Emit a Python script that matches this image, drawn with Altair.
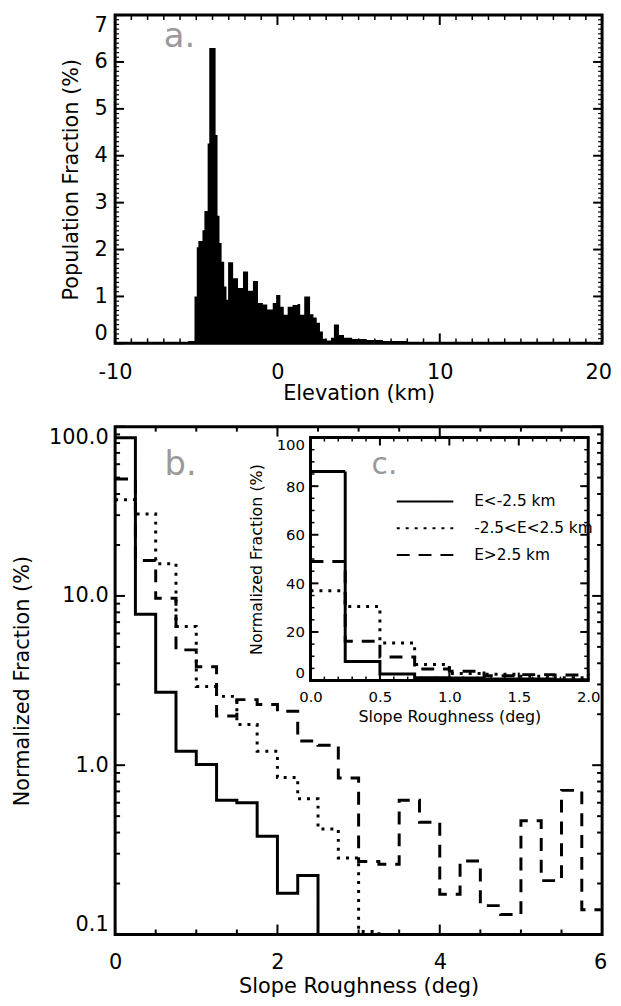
import altair as alt
import pandas as pd
import numpy as np

FONT = "DejaVu Sans"
GRAY = "#9a9a9a"

# ---------------- panel a: elevation histogram (step edges, %) ----------------
elev_edge_km = [-10.0, -6.2, -5.5, -5.11, -4.97, -4.87, -4.62, -4.50, -4.30, -4.20,
                -3.81, -3.69, -3.57, -3.44, -3.28, -3.14, -3.04, -2.73, -2.43, -2.12,
                -1.81, -1.51, -1.20, -0.90, -0.63, -0.29, -0.08, 0.18, 0.39, 0.63,
                0.93, 1.24, 1.40, 1.65, 2.01, 2.22, 2.42, 2.62, 2.80, 3.00,
                3.30, 3.48, 3.79, 4.10, 4.60, 5.50, 6.50, 8.00, 10.00, 12.00, 20.0]
elev_frac_pct = [0.0, 0.02, 0.05, 1.0, 2.05, 2.18, 2.41, 2.82, 4.26, 6.3,
                 4.44, 2.72, 2.14, 1.74, 1.21, 0.93, 1.73, 1.39, 1.18, 1.53,
                 1.12, 1.33, 0.86, 0.83, 0.72, 0.86, 1.03, 0.78, 0.61, 0.78,
                 0.82, 0.84, 0.61, 1.0, 0.62, 0.55, 0.44, 0.25, 0.10, 0.06,
                 0.12, 0.40, 0.18, 0.12, 0.09, 0.07, 0.05, 0.03, 0.01, 0.0, 0.0]

# ---------------- panels b / c: slope roughness histograms (%) ----------------
slope_bin_deg = [0.0, 0.25, 0.5, 0.75, 1.0, 1.25, 1.5, 1.75, 2.0, 2.25, 2.5, 2.75,
                 3.0, 3.25, 3.5, 3.75, 4.0, 4.25, 4.5, 4.75, 5.0, 5.25, 5.5, 5.75]
slope_end_deg = 6.0
frac_low_pct = [86.0, 7.8, 2.7, 1.21, 1.01, 0.62, 0.60, 0.38, 0.175, 0.223,
                0, 0, 0, 0, 0, 0, 0, 0, 0, 0, 0, 0, 0, 0]
frac_mid_pct = [37.0, 30.5, 15.5, 6.6, 2.92, 2.55, 1.74, 1.21, 0.846, 0.633,
                0.42, 0.283, 0.104, 0, 0, 0, 0, 0, 0, 0, 0, 0, 0, 0]
frac_high_pct = [49.0, 16.2, 9.7, 4.8, 3.82, 1.95, 2.44, 2.28, 2.08, 1.39,
                 1.31, 0.84, 0.27, 0.26, 0.62, 0.46, 0.173, 0.272, 0.148, 0.131,
                 0.47, 0.208, 0.71, 0.14]
series_names = ["E<-2.5 km", "-2.5<E<2.5 km", "E>2.5 km"]
series_dash = [[1, 0], [3, 6], [13, 9]]

# ---------------- layout constants ----------------
W = 491
HA = 331
HB = 512
IX0, IX1, IY0, IY1 = 197, 477, 11, 256   # inset box inside panel b (px)


def edge_ticks(values, scale, axis, ch, length, x0, x1, y0, y1, sw=2.0):
    df = pd.DataFrame({"v": values})
    base = alt.Chart(df).mark_rule(color="black", strokeWidth=sw)
    if ch == "x":
        enc = alt.X("v:Q", scale=scale, axis=axis)
        return [base.encode(x=enc, y=alt.value(y1), y2=alt.value(y1 - length)),
                base.encode(x=enc, y=alt.value(y0), y2=alt.value(y0 + length))]
    enc = alt.Y("v:Q", scale=scale, axis=axis)
    return [base.encode(y=enc, x=alt.value(x0), x2=alt.value(x0 + length)),
            base.encode(y=enc, x=alt.value(x1), x2=alt.value(x1 - length))]


# ================= panel a =================
xa = alt.Scale(domain=[-10, 20], nice=False, zero=False)
ya = alt.Scale(domain=[0, 7], nice=False, zero=False)
ax_xa = alt.Axis(title="Elevation (km)", values=[-10, 0, 10, 20], labelFlush=False,
                 labelOffset={"condition": {"test": "datum.value == 20", "value": -4}, "value": 0},
                 labelExpr="datum.value + ''", labelPadding=18, titlePadding=1)
ax_ya = alt.Axis(title="Population Fraction (%)", values=list(range(8)),
                 labelFlush=True, labelPadding=8, titlePadding=13)
dfa = pd.DataFrame({"elev": elev_edge_km, "frac": elev_frac_pct})

hist = alt.Chart(dfa).mark_area(interpolate="step-after", color="black", clip=True).encode(
    x=alt.X("elev:Q", scale=xa, axis=ax_xa),
    y=alt.Y("frac:Q", scale=ya, axis=ax_ya),
)
a_major_x = [-10, 0, 10, 20]
a_minor_x = [v for v in range(-9, 20) if v not in a_major_x]
a_major_y = list(range(8))
a_minor_y = [round(v, 2) for v in np.arange(0.1, 7.0, 0.1) if abs(v - round(v)) > 1e-6]
ticks_a = (edge_ticks(a_major_x, xa, ax_xa, "x", 10, 0, W, 0, HA)
           + edge_ticks(a_minor_x, xa, ax_xa, "x", 5, 0, W, 0, HA, 1.5)
           + edge_ticks(a_major_y, ya, ax_ya, "y", 9, 0, W, 0, HA)
           + edge_ticks(a_minor_y, ya, ax_ya, "y", 4, 0, W, 0, HA, 1.2))
label_a = alt.Chart(pd.DataFrame({"k": [0]})).mark_text(
    text="a.", align="left", baseline="alphabetic", font=FONT, fontSize=34, color=GRAY
).encode(x=alt.datum(-7.0, scale=xa, axis=ax_xa), y=alt.datum(6.32, scale=ya, axis=ax_ya))

panel_a = alt.layer(hist, *ticks_a, label_a).properties(width=W, height=HA)

# ================= panel b =================
rows = []
for name, vals in zip(series_names, [frac_low_pct, frac_mid_pct, frac_high_pct]):
    xs = slope_bin_deg + [slope_end_deg]
    vs = vals + [vals[-1]]
    for x, v in zip(xs, vs):
        rows.append({"slope": x, "frac": v, "series": name})
dfb = pd.DataFrame(rows)

dash_scale = alt.Scale(domain=series_names, range=series_dash)
legend = alt.Legend(orient="none", legendX=283, legendY=62, title=None,
                    symbolType="stroke", symbolSize=3249, symbolStrokeWidth=2,
                    symbolStrokeColor="black", labelFont=FONT, labelFontSize=15.5,
                    labelColor="black", labelOffset=20, rowPadding=0, padding=0,
                    clipHeight=27)

xb = alt.Scale(domain=[0, 6], nice=False, zero=False)
yb = alt.Scale(type="log", domain=[0.1, 100], nice=False)
ax_xb = alt.Axis(title="Slope Roughness (deg)", values=[0, 2, 4, 6], format="d",
                 labelFlush=False,
                 labelOffset={"condition": {"test": "datum.value == 6", "value": -2}, "value": 0},
                 labelPadding=17, titlePadding=4)
ax_yb = alt.Axis(title="Normalized Fraction (%)", values=[0.1, 1, 10, 100],
                 format=".1f", labelFlush=True, labelPadding=7, titlePadding=16)

lines_b = alt.Chart(dfb).transform_calculate(
    fy="max(datum.frac, 0.01)"
).mark_line(interpolate="step-after", color="black", strokeWidth=3, clip=True).encode(
    x=alt.X("slope:Q", scale=xb, axis=ax_xb),
    y=alt.Y("fy:Q", scale=yb, axis=ax_yb),
    strokeDash=alt.StrokeDash("series:N", scale=dash_scale, legend=legend),
)
b_major_x = [0, 2, 4, 6]
b_minor_x = [0.5, 1, 1.5, 2.5, 3, 3.5, 4.5, 5, 5.5]
b_major_y = [0.1, 1, 10, 100]
b_minor_y = [round(k * 10.0 ** d, 3) for d in (-1, 0, 1) for k in range(2, 10)]
ticks_b = (edge_ticks(b_major_x, xb, ax_xb, "x", 10, 0, W, 0, HB)
           + edge_ticks(b_minor_x, xb, ax_xb, "x", 5, 0, W, 0, HB)
           + edge_ticks(b_major_y, yb, ax_yb, "y", 10, 0, W, 0, HB)
           + edge_ticks(b_minor_y, yb, ax_yb, "y", 5, 0, W, 0, HB))
label_b = alt.Chart(pd.DataFrame({"k": [0]})).mark_text(
    text="b.", align="left", baseline="alphabetic", font=FONT, fontSize=34, color=GRAY
).encode(x=alt.datum(0.61, scale=xb, axis=ax_xb), y=alt.datum(51.6, scale=yb, axis=ax_yb))

main_b = alt.layer(lines_b, *ticks_b, label_b)

# ================= inset c =================
xi = alt.Scale(domain=[0, 2], range=[IX0, IX1], nice=False, zero=False)
yi = alt.Scale(domain=[0, 100], range=[IY1, IY0], nice=False, zero=False)
ax_xi = alt.Axis(orient="bottom", offset=-(HB - IY1), title="Slope Roughness (deg)",
                 values=[0, 0.5, 1, 1.5, 2], format=".1f", labelFlush=False,
                 labelFontSize=15, titleFontSize=16, labelPadding=9, titlePadding=4)
ax_yi = alt.Axis(orient="left", offset=-IX0, title="Normalized Fraction (%)",
                 values=[0, 20, 40, 60, 80, 100], format="d", labelFlush=True,
                 labelFontSize=15, titleFontSize=16, labelPadding=6, titlePadding=12)

frame = alt.Chart(pd.DataFrame({"x0": [0.0], "x1": [2.0], "y0": [0.0], "y1": [100.0]})).mark_rect(
    fill="white", stroke="black", strokeWidth=3
).encode(
    x=alt.X("x0:Q", scale=xi, axis=ax_xi), x2="x1",
    y=alt.Y("y0:Q", scale=yi, axis=ax_yi), y2="y1",
)
lines_c = alt.Chart(dfb).transform_filter("datum.slope <= 2").mark_line(
    interpolate="step-after", color="black", strokeWidth=3
).encode(
    x=alt.X("slope:Q", scale=xi, axis=ax_xi),
    y=alt.Y("frac:Q", scale=yi, axis=ax_yi),
    strokeDash=alt.StrokeDash("series:N", scale=dash_scale, legend=legend),
)
c_major_x = [0, 0.5, 1, 1.5, 2]
c_minor_x = [round(v, 2) for v in np.arange(0.1, 2.0, 0.1) if abs(v * 2 - round(v * 2)) > 1e-6]
c_major_y = [0, 20, 40, 60, 80, 100]
c_minor_y = [v for v in range(5, 100, 5) if v % 20 != 0]
ticks_c = (edge_ticks(c_major_x, xi, ax_xi, "x", 8, IX0, IX1, IY0, IY1)
           + edge_ticks(c_minor_x, xi, ax_xi, "x", 4, IX0, IX1, IY0, IY1, 1.5)
           + edge_ticks(c_major_y, yi, ax_yi, "y", 8, IX0, IX1, IY0, IY1)
           + edge_ticks(c_minor_y, yi, ax_yi, "y", 4, IX0, IX1, IY0, IY1, 1.5))
label_c = alt.Chart(pd.DataFrame({"k": [0]})).mark_text(
    text="c.", align="left", baseline="alphabetic", font=FONT, fontSize=30, color=GRAY
).encode(x=alt.datum(0.44, scale=xi, axis=ax_xi), y=alt.datum(84.8, scale=yi, axis=ax_yi))

inset_c = alt.layer(frame, *ticks_c, lines_c, label_c)

panel_b = alt.layer(main_b, inset_c).resolve_scale(
    x="independent", y="independent"
).properties(width=W, height=HB)

chart = alt.vconcat(panel_a, panel_b, spacing=18).resolve_legend(
    strokeDash="independent"
).properties(
    padding={"left": 2, "top": 0, "right": 0, "bottom": 0}
).configure_view(
    stroke="black", strokeWidth=3
).configure_axis(
    labelFont=FONT, titleFont=FONT, labelFontSize=21, titleFontSize=21,
    titleFontWeight="normal", labelColor="black", titleColor="black",
    grid=False, ticks=False, domain=False
)

chart.save("out.html", embed_options={"renderer": "svg", "actions": False})
